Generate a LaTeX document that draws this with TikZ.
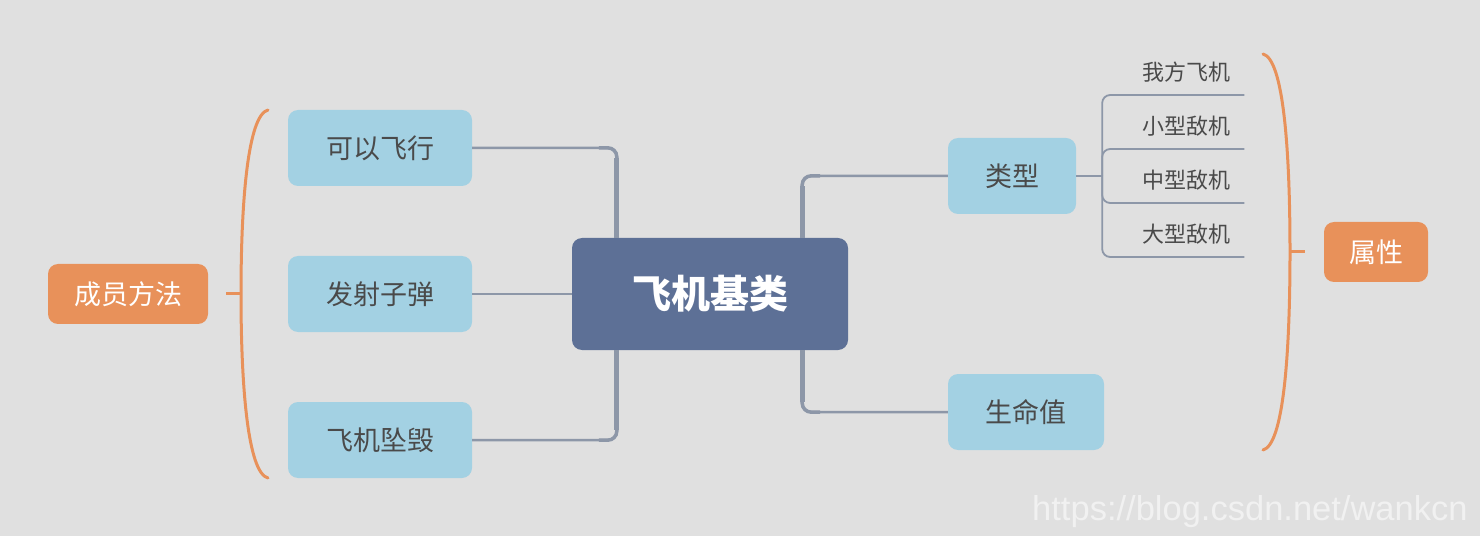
\documentclass[tikz,border=0pt]{standalone}
\usepackage{fontspec}
\setmainfont{Noto Sans CJK SC}
\newfontfamily\urlfont{Liberation Sans}
\usepackage{xcolor}
\usepackage{tikz}
\definecolor{bggray}{HTML}{E0E0E0}
\definecolor{topicblue}{HTML}{A3D1E3}
\definecolor{rootblue}{HTML}{5D7096}
\definecolor{braceorange}{HTML}{E8915A}
\definecolor{linegray}{HTML}{8D97A8}
\definecolor{textgray}{HTML}{4A4A4A}
\tikzstyle{root} = [rectangle, rounded corners=10pt, fill=rootblue, text=white, minimum width=276pt, minimum height=112pt, font=\fontsize{39pt}{42pt}\selectfont\bfseries]
\tikzstyle{topic} = [rectangle, rounded corners=10pt, fill=topicblue, text=textgray, minimum height=76pt, inner xsep=0pt, font=\fontsize{27pt}{30pt}\selectfont]
\tikzstyle{tag} = [rectangle, rounded corners=10pt, fill=braceorange, text=white, minimum height=60pt, inner xsep=0pt, font=\fontsize{27pt}{30pt}\selectfont]
\tikzstyle{leaf} = [minimum width=142pt, minimum height=46pt, inner sep=0pt, text width=114pt, align=right, text=textgray, font=\fontsize{22pt}{24pt}\selectfont]
\tikzstyle{conn} = [draw=linegray, line width=2.5pt, rounded corners=9pt]
\tikzstyle{stem} = [draw=linegray, line width=5pt]
\tikzstyle{elbow} = [draw=linegray, line width=3.5pt, rounded corners=9pt]
\tikzstyle{twig} = [draw=linegray, line width=1.8pt, rounded corners=8pt]
\tikzstyle{brace} = [draw=braceorange, line width=3pt, line cap=round]

\begin{document}
\begin{tikzpicture}[x=1pt, y=1pt, node distance=330pt]
		\fill[bggray] (0,0) rectangle (1480,536);

		\node (jilei) [root] at (710,242) {飞机基类};
		\node (fashe) [topic, minimum width=184pt, left of=jilei] {发射子弹};
		\node (kexing) [topic, minimum width=184pt, above of=fashe, node distance=146pt] {可以飞行};
		\node (zhuihui) [topic, minimum width=184pt, below of=fashe, node distance=146pt] {飞机坠毁};
		\node (chengyuan) [tag, minimum width=160pt, left of=fashe, node distance=252pt] {成员方法};

		\node (leixing) [topic, minimum width=128pt, right of=jilei, node distance=302pt, yshift=118pt] {类型};
		\node (shengming) [topic, minimum width=156pt, right of=jilei, node distance=316pt, yshift=-118pt] {生命值};
		\node (shuxing) [tag, minimum width=104pt, right of=leixing, node distance=364pt, yshift=-76pt] {属性};

		\node (wofang) [leaf, anchor=south west] at (1102,441) {我方飞机};
		\node (xiaoxing) [leaf, anchor=south west] at (1102,387) {小型敌机};
		\node (zhongxing) [leaf, anchor=south west] at (1102,333) {中型敌机};
		\node (daxing) [leaf, anchor=south west] at (1102,279) {大型敌机};

		% left side
		\draw [conn] (kexing.east) -| ([xshift=45pt]jilei.north west);
		\draw [elbow] ([xshift=45pt]jilei.north west) |- ++(-18,90);
		\draw [stem] ([xshift=45pt]jilei.north west) -- ++(0,80);
		\draw [conn, line width=2pt] (fashe.east) -- (jilei.west);
		\draw [conn] (zhuihui.east) -| ([xshift=45pt]jilei.south west);
		\draw [elbow] ([xshift=45pt]jilei.south west) |- ++(-18,-90);
		\draw [stem] ([xshift=45pt]jilei.south west) -- ++(0,-80);

		% right side
		\draw [conn] (leixing.west) -| ([xshift=-46pt]jilei.north east);
		\draw [elbow] ([xshift=-46pt]jilei.north east) |- ++(18,62);
		\draw [stem] ([xshift=-46pt]jilei.north east) -- ++(0,52);
		\draw [conn] (shengming.west) -| ([xshift=-46pt]jilei.south east);
		\draw [elbow] ([xshift=-46pt]jilei.south east) |- ++(18,-62);
		\draw [stem] ([xshift=-46pt]jilei.south east) -- ++(0,-52);

		\draw [twig] (leixing.east) -- ++(26,0) coordinate (fork);
		\draw [twig] (fork) |- (wofang.south east);
		\draw [twig] (fork) |- (xiaoxing.south east);
		\draw [twig] (fork) |- (zhongxing.south east);
		\draw [twig] (fork) |- (daxing.south east);

		% braces
		\draw [brace] (268,426) .. controls (248,421) and (241,336) .. (241,242) .. controls (241,148) and (248,63) .. (268,58);
		\draw [brace, line cap=butt] (226,242) -- (241,242);
		\draw [brace] (1263,482) .. controls (1283,477) and (1290,390) .. (1290,284) .. controls (1290,178) and (1283,91) .. (1263,86);
		\draw [brace, line cap=butt] (1290,284) -- (1305,284);

		\node (wm) [anchor=base west, inner sep=0pt, text=white!55!bggray, font=\urlfont\fontsize{34.5pt}{38pt}\selectfont] at (1032,16) {https://blog.csdn.net/wankcn};
	\end{tikzpicture}
\end{document}
